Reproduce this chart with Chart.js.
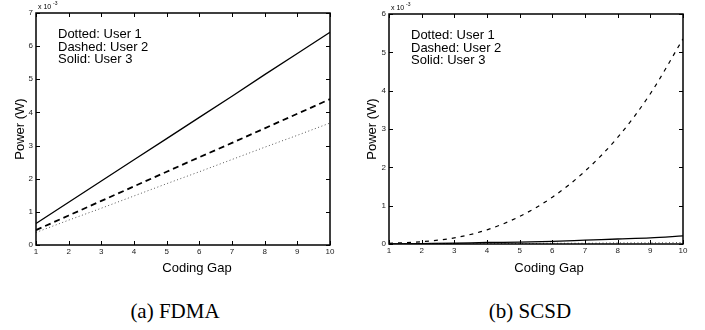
<!DOCTYPE html>
<html>
<head>
<meta charset="utf-8">
<script src="https://cdn.jsdelivr.net/npm/chart.js@4"></script>
<style>
  body { margin: 0; background: #fff; width: 705px; height: 330px; position: relative; overflow: hidden; }
  canvas { position: absolute; top: 0; }
  #c1 { left: 0; }
  #c2 { left: 352px; }
  .cap { position: absolute; top: 299px; font-family: "Liberation Serif", "Times New Roman", serif; font-size: 21px; line-height: 24px; color: #000; transform: translateX(-50%); white-space: nowrap; }
</style>
</head>
<body>
<canvas id="c1" width="352" height="285"></canvas>
<canvas id="c2" width="353" height="285"></canvas>
<div class="cap" style="left:175px">(a) FDMA</div>
<div class="cap" style="left:530px">(b) SCSD</div>
<script>
// coding gap (x axis)
const gaps = [1, 2, 3, 4, 5, 6, 7, 8, 9, 10];

// power, in units of 1e-3 W
const fdmaUser1 = [0.38, 0.75, 1.11, 1.48, 1.85, 2.21, 2.58, 2.95, 3.31, 3.68];
const fdmaUser2 = [0.45, 0.89, 1.33, 1.77, 2.21, 2.65, 3.08, 3.52, 3.96, 4.40];
const fdmaUser3 = [0.65, 1.29, 1.93, 2.57, 3.21, 3.85, 4.49, 5.14, 5.78, 6.42];

const scsdUser1 = [0.00, 0.00, 0.01, 0.01, 0.01, 0.02, 0.02, 0.03, 0.03, 0.04];
const scsdUser2 = [0.02, 0.06, 0.16, 0.37, 0.72, 1.22, 1.90, 2.78, 3.92, 5.35];
const scsdUser3 = [0.00, 0.01, 0.02, 0.04, 0.05, 0.07, 0.10, 0.13, 0.16, 0.21];

const legendLines = ['Dotted: User 1', 'Dashed: User 2', 'Solid: User 3'];

const pts = arr => arr.map((v, i) => ({ x: gaps[i], y: v }));

// frame, inward ticks and the texts matlab puts around the axes
const matlabFrame = {
    id: 'matlabFrame',
    afterDraw(chart, args, opts) {
        const { ctx, chartArea: a, scales: { x, y } } = chart;
        ctx.save();
        ctx.strokeStyle = '#000';
        ctx.lineWidth = 1;
        ctx.beginPath();
        x.ticks.forEach(t => {
            const px = Math.round(x.getPixelForValue(t.value)) + 0.5;
            ctx.moveTo(px, a.bottom); ctx.lineTo(px, a.bottom - 4);
            ctx.moveTo(px, a.top); ctx.lineTo(px, a.top + 4);
        });
        y.ticks.forEach(t => {
            const py = Math.round(y.getPixelForValue(t.value)) + 0.5;
            ctx.moveTo(a.left, py); ctx.lineTo(a.left + 4, py);
            ctx.moveTo(a.right, py); ctx.lineTo(a.right - 4, py);
        });
        ctx.stroke();
        ctx.lineWidth = 1.5;
        ctx.strokeRect(a.left, a.top, a.right - a.left, a.bottom - a.top);

        ctx.fillStyle = '#000';
        ctx.textBaseline = 'alphabetic';
        ctx.textAlign = 'left';
        ctx.font = '13px "Liberation Sans", Arial, sans-serif';
        legendLines.forEach((s, i) => ctx.fillText(s, a.left + 22, a.top + 25 + i * 12.5));

        // exponent
        ctx.font = '7px "Liberation Sans", Arial, sans-serif';
        ctx.fillText('x 10', a.left + 2, a.top - 4);
        ctx.font = '5px "Liberation Sans", Arial, sans-serif';
        ctx.fillText(opts.exp, a.left + 17, a.top - 8);

        // axis titles
        ctx.font = '13px "Liberation Sans", Arial, sans-serif';
        ctx.textAlign = 'center';
        ctx.fillText('Coding Gap', opts.xTitleX, 272);
        ctx.save();
        ctx.translate(opts.yTitleX, (a.top + a.bottom) / 2);
        ctx.rotate(-Math.PI / 2);
        ctx.fillText('Power (W)', 0, 0);
        ctx.restore();
        ctx.restore();
    }
};

function makeChart(id, series, yMax, pad, opts) {
    new Chart(document.getElementById(id), {
        type: 'line',
        data: {
            datasets: [
                { data: pts(series[0]), borderColor: '#555', borderWidth: 1, borderDash: [1, 2.5] },
                { data: pts(series[1]), borderColor: '#000', borderWidth: opts.dashWidth, borderDash: opts.dash },
                { data: pts(series[2]), borderColor: '#000', borderWidth: 1.3 }
            ]
        },
        options: {
            responsive: false,
            animation: false,
            layout: { padding: { top: pad.top, right: pad.right, left: 0, bottom: 0 } },
            elements: {
                point: { radius: 0 },
                line: { tension: 0, cubicInterpolationMode: opts.curve ? 'monotone' : 'default', fill: false }
            },
            plugins: {
                legend: { display: false },
                tooltip: { enabled: false },
                matlabFrame: opts
            },
            scales: {
                x: {
                    type: 'linear', min: 1, max: 10,
                    grid: { display: false, drawTicks: false, tickLength: 0 },
                    border: { display: false },
                    ticks: { stepSize: 1, padding: 2, color: '#222', font: { size: 8, family: 'Liberation Sans' }, maxRotation: 0 },
                    afterFit: s => { s.height = 285 - pad.bottom; }
                },
                y: {
                    min: 0, max: yMax,
                    grid: { display: false, drawTicks: false, tickLength: 0 },
                    border: { display: false },
                    ticks: { stepSize: 1, padding: 3, color: '#222', font: { size: 8, family: 'Liberation Sans' } },
                    afterFit: s => { s.width = pad.left; }
                }
            }
        },
        plugins: [matlabFrame]
    });
}

makeChart('c1', [fdmaUser1, fdmaUser2, fdmaUser3], 7,
    { top: 13, right: 22, left: 36, bottom: 245 },
    { exp: '-3', xTitleX: 197, yTitleX: 24, dash: [6, 4], dashWidth: 1.8, curve: false });

makeChart('c2', [scsdUser1, scsdUser2, scsdUser3], 6,
    { top: 14, right: 22, left: 37, bottom: 244 },
    { exp: '-3', xTitleX: 197, yTitleX: 24, dash: [4, 5], dashWidth: 1.2, curve: true });
</script>
</body>
</html>
